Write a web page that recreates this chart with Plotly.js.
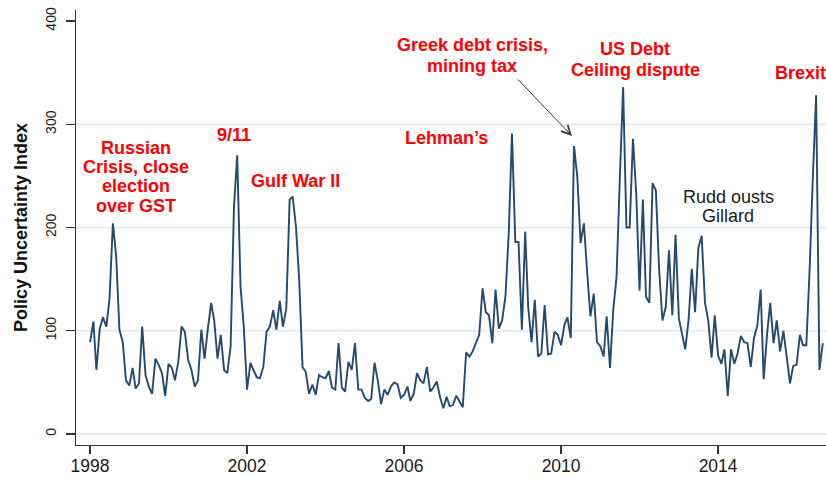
<!DOCTYPE html>
<html>
<head>
<meta charset="utf-8">
<script src="https://cdn.plot.ly/plotly-3.0.1.min.js"></script>
<style>
  html, body { margin: 0; padding: 0; background: #ffffff; }
  #chart { width: 826px; height: 478px; }
</style>
</head>
<body>
<div id="chart"></div>
<script>
// ---- DATA (monthly Policy Uncertainty Index, Australia) ----
const startYear = 1998;
const v1998 = [89, 109, 62, 102, 113, 104, 131, 204, 172, 101, 89, 52];
const v1999 = [47, 64, 44, 49, 104, 57, 46, 39, 73, 67, 59, 37];
const v2000 = [68, 64, 52, 70, 104, 99, 72, 62, 46, 52, 101, 73];
const v2001 = [102, 127, 110, 73, 96, 62, 59, 85, 220, 270, 143, 104];
const v2002 = [43, 69, 62, 55, 54, 65, 99, 104, 120, 101, 129, 104];
const v2003 = [122, 227, 230, 201, 149, 65, 60, 39, 48, 38, 57, 55];
const v2004 = [54, 61, 45, 43, 88, 45, 41, 70, 62, 88, 43, 43];
const v2005 = [35, 32, 34, 69, 52, 29, 43, 38, 46, 50, 48, 35];
const v2006 = [38, 46, 32, 39, 59, 52, 49, 65, 41, 45, 51, 36];
const v2007 = [25, 36, 27, 28, 37, 31, 26, 79, 75, 80, 88, 96];
const v2008 = [141, 118, 115, 88, 140, 102, 110, 133, 195, 291, 186, 186];
const v2009 = [101, 196, 123, 89, 130, 75, 78, 125, 77, 78, 99, 96];
const v2010 = [86, 106, 113, 93, 279, 249, 185, 204, 156, 114, 136, 89];
const v2011 = [85, 75, 114, 64, 120, 152, 246, 336, 200, 200, 286, 233];
const v2012 = [139, 227, 133, 127, 243, 236, 160, 110, 123, 178, 115, 193];
const v2013 = [112, 97, 82, 110, 160, 118, 180, 192, 127, 110, 74, 115];
const v2014 = [76, 68, 82, 37, 82, 68, 78, 95, 89, 88, 65, 93];
const v2015 = [105, 140, 53, 96, 127, 88, 110, 80, 100, 75, 49, 66];
const v2016 = [67, 96, 86, 86, 158, 250, 328, 62, 88];

const tickYears = ['1998', '2002', '2006', '2010', '2014'];
const yTickValues = [0, 100, 200, 300, 400];
const gridValues = [0, 100, 200, 300];

const annoTexts  = ['Russian', 'Crisis, close', 'election', 'over GST', '9/11', 'Gulf War II',
                    "Lehman\u2019s", 'Greek debt crisis,', 'mining tax', 'US Debt', 'Ceiling dispute',
                    'Brexit', 'Rudd ousts', 'Gillard'];

// ---- build series ----
const yearly = [v1998, v1999, v2000, v2001, v2002, v2003, v2004, v2005, v2006,
                v2007, v2008, v2009, v2010, v2011, v2012, v2013, v2014, v2015, v2016];
const xs = [], ys = [];
yearly.forEach((arr, yi) => {
  arr.forEach((v, m) => {
    const mm = String(m + 1).padStart(2, '0');
    xs.push((startYear + yi) + '-' + mm + '-01');
    ys.push(v);
  });
});

// ---- layout geometry (pixels) ----
const W = 826, H = 478;
const M = { l: 76, r: 0, t: 10, b: 33 };
const PW = W - M.l - M.r, PH = H - M.t - M.b;
const px2x = px => (px - M.l) / PW;
const py2y = py => (H - M.b - py) / PH;

// annotation placements (pixel centres) and styles
const annoPos = [
  [135.5, 147.5], [135.5, 167.5], [135.5, 186.5], [135.5, 205.5],
  [234, 135], [295, 181], [446.5, 137.5], [472, 45.5], [472.5, 65.5],
  [635, 49], [635, 69.5], [800, 72.5], [728, 196.5], [728, 216]
];
const annoRed = [true, true, true, true, true, true, true, true, true, true, true, true, false, false];

const annotations = annoTexts.map((t, i) => ({
  text: t,
  xref: 'paper', yref: 'paper',
  x: px2x(annoPos[i][0]), y: py2y(annoPos[i][1]),
  xanchor: 'center', yanchor: 'middle',
  showarrow: false,
  font: {
    family: 'Liberation Sans, Arial, sans-serif',
    size: 18,
    color: annoRed[i] ? '#ff0000' : '#1a1a1a',
    weight: annoRed[i] ? 'bold' : 'normal'
  }
}));
// arrow for Greek debt crisis
annotations.push({
  text: '', xref: 'paper', yref: 'paper',
  x: px2x(572), y: py2y(136),
  ax: 516.5 - 572, ay: 78 - 136, axref: 'pixel', ayref: 'pixel',
  showarrow: true, arrowhead: 5, arrowsize: 1.8, arrowwidth: 1,
  arrowcolor: '#3a3a3a'
});

const shapes = gridValues.map(g => ({
  type: 'line', xref: 'paper', yref: 'y', layer: 'below',
  x0: 0, x1: 1, y0: g, y1: g,
  line: { color: '#e6eef2', width: 2.2 }
}));

const trace = {
  x: xs, y: ys, type: 'scatter', mode: 'lines',
  line: { color: '#25496f', width: 1.9 },
  hoverinfo: 'skip'
};

const axisFont = 'Liberation Sans, Arial, sans-serif';
const layout = {
  width: W, height: H,
  margin: M,
  paper_bgcolor: '#ffffff', plot_bgcolor: '#ffffff',
  showlegend: false,
  xaxis: {
    type: 'date',
    range: ['1997-08-23', '2016-10-01'],
    tickmode: 'array',
    tickvals: tickYears.map(y => y + '-01-01'),
    ticktext: tickYears,
    showgrid: false, zeroline: false,
    showline: true, linecolor: '#333333', linewidth: 1.3,
    ticks: 'outside', ticklen: 8, tickwidth: 1.3, tickcolor: '#333333',
    ticklabelstandoff: -3,
    tickfont: { family: axisFont, size: 17.5, color: '#1a1a1a' },
    fixedrange: true
  },
  yaxis: {
    range: [-10.65, 410.7],
    tickmode: 'array',
    tickvals: yTickValues,
    ticktext: yTickValues.map(String),
    tickangle: -90,
    showgrid: false, zeroline: false,
    showline: true, linecolor: '#333333', linewidth: 1.3,
    ticks: 'outside', ticklen: 9, tickwidth: 1.3, tickcolor: '#333333',
    ticklabelstandoff: 4,
    tickfont: { family: axisFont, size: 14, color: '#1a1a1a' },
    title: {
      text: 'Policy Uncertainty Index',
      font: { family: axisFont, size: 18, color: '#111111', weight: 'bold' },
      standoff: 10
    },
    fixedrange: true
  },
  shapes: shapes,
  annotations: annotations
};

Plotly.newPlot('chart', [trace], layout, { displayModeBar: false, staticPlot: true });
</script>
</body>
</html>
